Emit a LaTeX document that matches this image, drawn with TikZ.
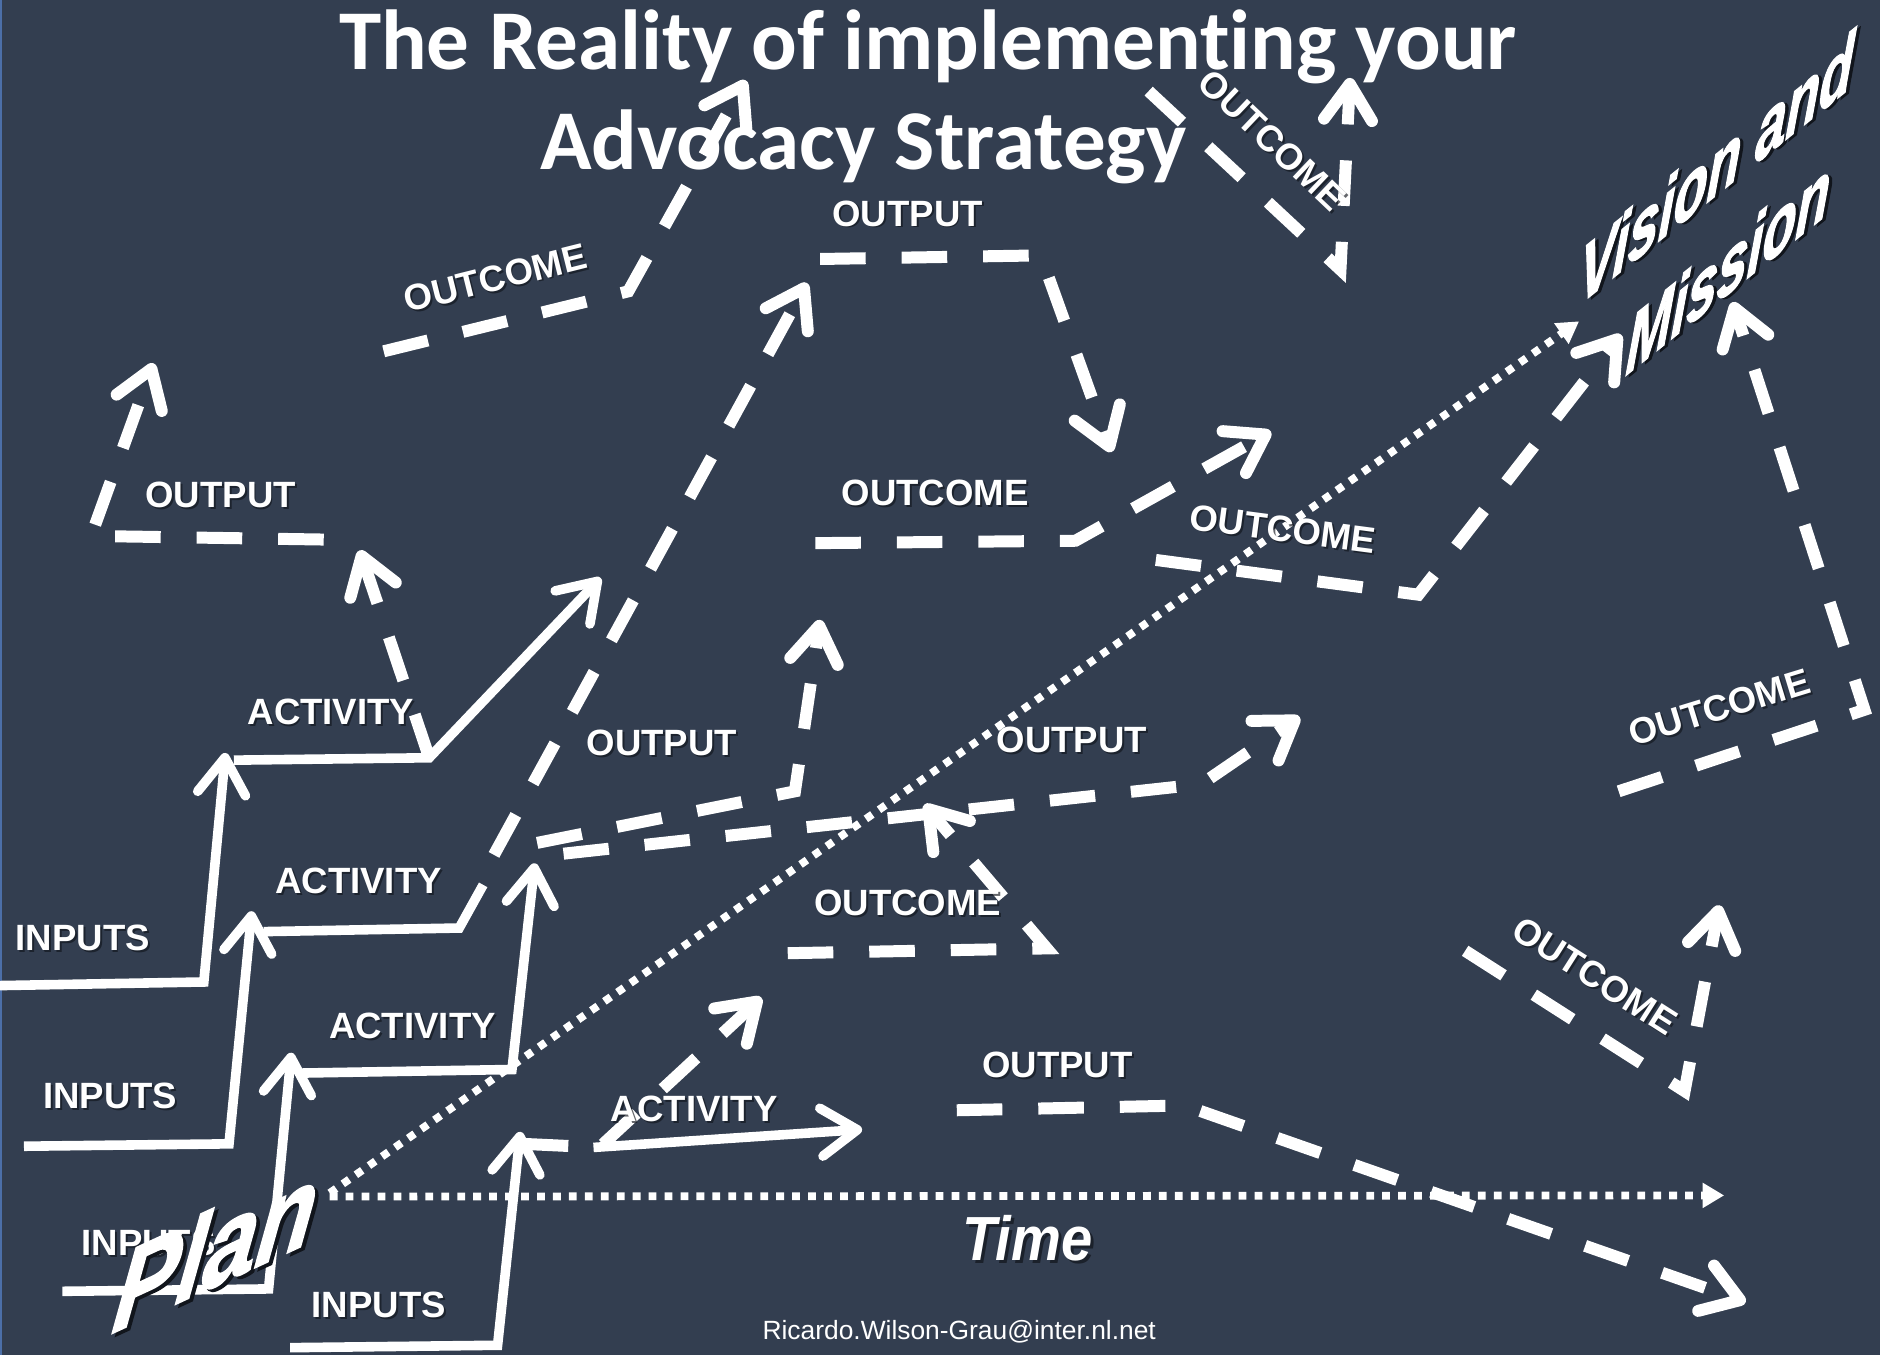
\documentclass[tikz,border=0pt]{standalone}
\usepackage{graphicx}
\usepackage{fontspec}
\newfontfamily\titlefont{Carlito}[Ligatures=CommonOff]
\newfontfamily\lblfont{Liberation Sans}
\newfontfamily\heavyfont{Liberation Sans}[BoldItalicFeatures={FakeBold=2}]
\usetikzlibrary{arrows.meta}

\definecolor{bgslate}{HTML}{333E50}
\definecolor{edgeblue}{HTML}{4C6FA8}
\definecolor{shade}{HTML}{11151C}

% a stage label with a soft drop shadow: name, position, angle, text
\newcommand\stagelabel[4]{%
  \node[lbl, text=shade, text opacity=0.65, xshift=1.6pt, yshift=-1.6pt, rotate=#3] (#1-shadow) at (#2) {#4};
  \node[lbl, rotate=#3] (#1) at (#2) {#4};}
% bold italic display faces
\newcommand\bigface[1]{\lblfont\bfseries\itshape\fontsize{#1}{#1}\selectfont}
\newcommand\heavyface[1]{\heavyfont\bfseries\itshape\fontsize{#1}{#1}\selectfont}

\begin{document}
\begin{tikzpicture}[x=1pt, y=-1pt,
  solidline/.style={white, line width=8pt},
  dashline/.style={white, line width=10pt, dash pattern=on 38pt off 30pt},
  dotline/.style={white, line width=6.5pt, dash pattern=on 6.5pt off 6.8pt},
  barbhead/.style={-{Straight Barb[length=30pt,width=40pt,round]}},
  trihead/.style={-{Triangle[length=18pt,width=20pt]}},
  lbl/.style={font=\lblfont\bfseries\fontsize{30.5}{36}\selectfont, text=white, inner sep=0pt},
  titletext/.style={font=\titlefont\bfseries\fontsize{71}{80}\selectfont, text=white, inner sep=0pt, anchor=base},
  bigital/.style={text=white, inner sep=0pt, anchor=base},
  goalword/.style={bigital, yslant=0.8, xslant=0.08, font=\heavyface{65}},
  planword/.style={bigital, yslant=0.46, xslant=0.15, font=\heavyface{90}},
]
% canvas
\useasboundingbox (0,0) rectangle (1568,1130);
\fill[bgslate] (0,0) rectangle (1568,1130);
\fill[edgeblue] (0,0) rectangle (2,1130);

% ---- staircases: inputs rising into activities ----
\draw[solidline, barbhead] (0,822) -- (170,819) -- (188,628);
\draw[solidline, barbhead] (195,634) -- (358,632) -- (501,482);
\draw[solidline, barbhead] (20,956) -- (191,954) -- (210,760);
\draw[solidline] (220,777) -- (383,774) -- (403,738);
\draw[solidline, barbhead] (52,1077) -- (224,1075) -- (243,878);
\draw[solidline, barbhead] (250,895) -- (427,892) -- (446,720);
\draw[solidline, barbhead] (242,1124) -- (415,1122) -- (434,944);
\draw[solidline, barbhead] (495,957) -- (719,942);

% ---- dashed pathways: outputs and outcomes ----
\draw[dashline, barbhead] (270,450) -- (76,447) -- (128,303);
\draw[dashline, barbhead] (358,632) -- (300,459);
\draw[dashline, barbhead] (320,293) -- (524,243) -- (622,67);
\draw[dashline, barbhead] (412,713) -- (673,236);
\draw[dashline, barbhead] (684,216) -- (868,213) -- (927,377);
\draw[dashline, barbhead] (680,453) -- (897,451) -- (1060,360);
\draw[dashline, barbhead] (964,467) -- (1183,496) -- (1352,279);
\draw[dashline, barbhead] (958,76) -- (1118,225) -- (1126,65);
\draw[dashline, barbhead] (1350,660) -- (1555,592) -- (1445,252);
\draw[dashline, barbhead] (1222,793) -- (1405,910) -- (1434,755);
\draw[dashline, barbhead] (448,703) -- (663,660) -- (684,517);
\draw[dashline, barbhead] (470,712) -- (1002,654) -- (1084,598);
\draw[dashline, barbhead] (657,795) -- (873,791) -- (771,671);
\draw[dashline, barbhead] (436,954) -- (500,957) -- (635,832);
\draw[dashline, barbhead] (798,926) -- (988,922) -- (1456,1086);

% ---- the plan: time axis and the straight line to the goal ----
\draw[dotline, trihead] (275,998) -- (1438,997);
\draw[dotline, trihead] (275,995) -- (1317,268);

% ---- title ----
\node[titletext] (title1) at (774,58) {The Reality of implementing your};
\node[titletext] (title2) at (720,141) {Advocacy Strategy};

% ---- stage labels ----
\stagelabel{out-top}{757,178}{0}{OUTPUT}
\stagelabel{oc-ul}{413,232}{14}{OUTCOME}
\stagelabel{oc-tr}{1061,117}{-43.5}{OUTCOME}
\stagelabel{out-left}{184,413}{0}{OUTPUT}
\stagelabel{oc-mid}{780,411}{0}{OUTCOME}
\stagelabel{oc-rm}{1070,441}{-7.5}{OUTCOME}
\stagelabel{act-1}{276,594}{0}{ACTIVITY}
\stagelabel{out-ml}{552,620}{0}{OUTPUT}
\stagelabel{out-mr}{894,617}{0}{OUTPUT}
\stagelabel{oc-lr}{1434,590}{17}{OUTCOME}
\stagelabel{act-2}{299,735}{0}{ACTIVITY}
\stagelabel{in-1}{69,782}{0}{INPUTS}
\stagelabel{oc-lm}{757,753}{0}{OUTCOME}
\stagelabel{act-3}{344,856}{0}{ACTIVITY}
\stagelabel{oc-dr}{1330,814}{-32.5}{OUTCOME}
\stagelabel{out-low}{882,888}{0}{OUTPUT}
\stagelabel{in-2}{92,914}{0}{INPUTS}
\stagelabel{act-4}{579,925}{0}{ACTIVITY}
\stagelabel{in-3}{124,1037}{0}{INPUTS}
\stagelabel{in-4}{316,1088}{0}{INPUTS}

% ---- big slanted words ----
\node[goalword, text=shade, xshift=3pt, yshift=-3pt] (vision-shadow) at (1430,164) {\scalebox{0.7}[1]{Vision and}};
\node[goalword] (vision) at (1430,164) {\scalebox{0.7}[1]{Vision and}};
\node[goalword, text=shade, xshift=3pt, yshift=-3pt] (mission-shadow) at (1440,246) {\scalebox{0.7}[1]{Mission}};
\node[goalword] (mission) at (1440,246) {\scalebox{0.7}[1]{Mission}};

\node[planword, text=shade, xshift=3.5pt, yshift=-3.5pt] (plan-shadow) at (176,1074) {\scalebox{0.88}[1]{Plan}};
\node[planword] (plan) at (176,1074) {\scalebox{0.88}[1]{Plan}};

\node[bigital, text=shade, text opacity=0.7, xshift=2.5pt, yshift=-2.5pt, font=\bigface{52}] (time-shadow) at (857,1051) {\scalebox{0.9}[1]{Time}};
\node[bigital, font=\bigface{52}] (time) at (857,1051) {\scalebox{0.9}[1]{Time}};

% ---- contact line ----
\node[font=\lblfont\fontsize{22}{26}\selectfont, text=white, inner sep=0pt, anchor=base] (email) at (800,1117) {Ricardo.Wilson-Grau@inter.nl.net};
\end{tikzpicture}
\end{document}
